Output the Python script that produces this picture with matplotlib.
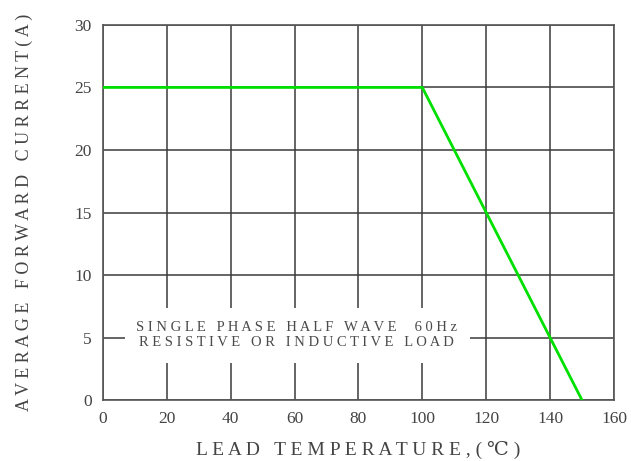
import matplotlib.pyplot as plt
from matplotlib.patches import Rectangle

# Derating curve data
temp = [0, 100, 150]
current = [25, 25, 0]

x_ticks = [0, 20, 40, 60, 80, 100, 120, 140, 160]
y_ticks = [0, 5, 10, 15, 20, 25, 30]

note_lines = ["SINGLE PHASE HALF WAVE  60Hz", "RESISTIVE OR INDUCTIVE LOAD"]


def spaced(s):
    return " ".join(s)


plt.rcParams["font.family"] = ["Liberation Serif", "DejaVu Serif"]

fig = plt.figure(figsize=(6.31, 4.61), dpi=100)
ax = fig.add_axes([0.163, 0.132, 0.810, 0.814])

ax.set_xlim(0, 160)
ax.set_ylim(0, 30)
ax.set_xticks(x_ticks)
ax.set_yticks(y_ticks)
ax.tick_params(length=0, labelsize=12.5, colors="#444444", pad=8)
ax.grid(True, color="#3a3a3a", linewidth=1.1)
for sp in ax.spines.values():
    sp.set_color("#555555")
    sp.set_linewidth(1.2)

ax.plot(temp, current, color="#00e000", linewidth=2, zorder=3)

# white area under the note, hiding the grid
ax.add_patch(Rectangle((7, 3.0), 108, 4.4, facecolor="white", edgecolor="none", zorder=2))
ax.text(60.7, 5.2, "\n".join(spaced(t) for t in note_lines), ha="center", va="center",
        fontsize=10.5, color="#4a4a4a", linespacing=1.15, zorder=4)

ax.set_xlabel(spaced("LEAD TEMPERATURE,(℃)"), fontsize=14, color="#444444", labelpad=10)
ax.set_ylabel(spaced("AVERAGE FORWARD CURRENT(A)"), fontsize=13, color="#444444", labelpad=30)

fig.savefig("out.png", dpi=100)
